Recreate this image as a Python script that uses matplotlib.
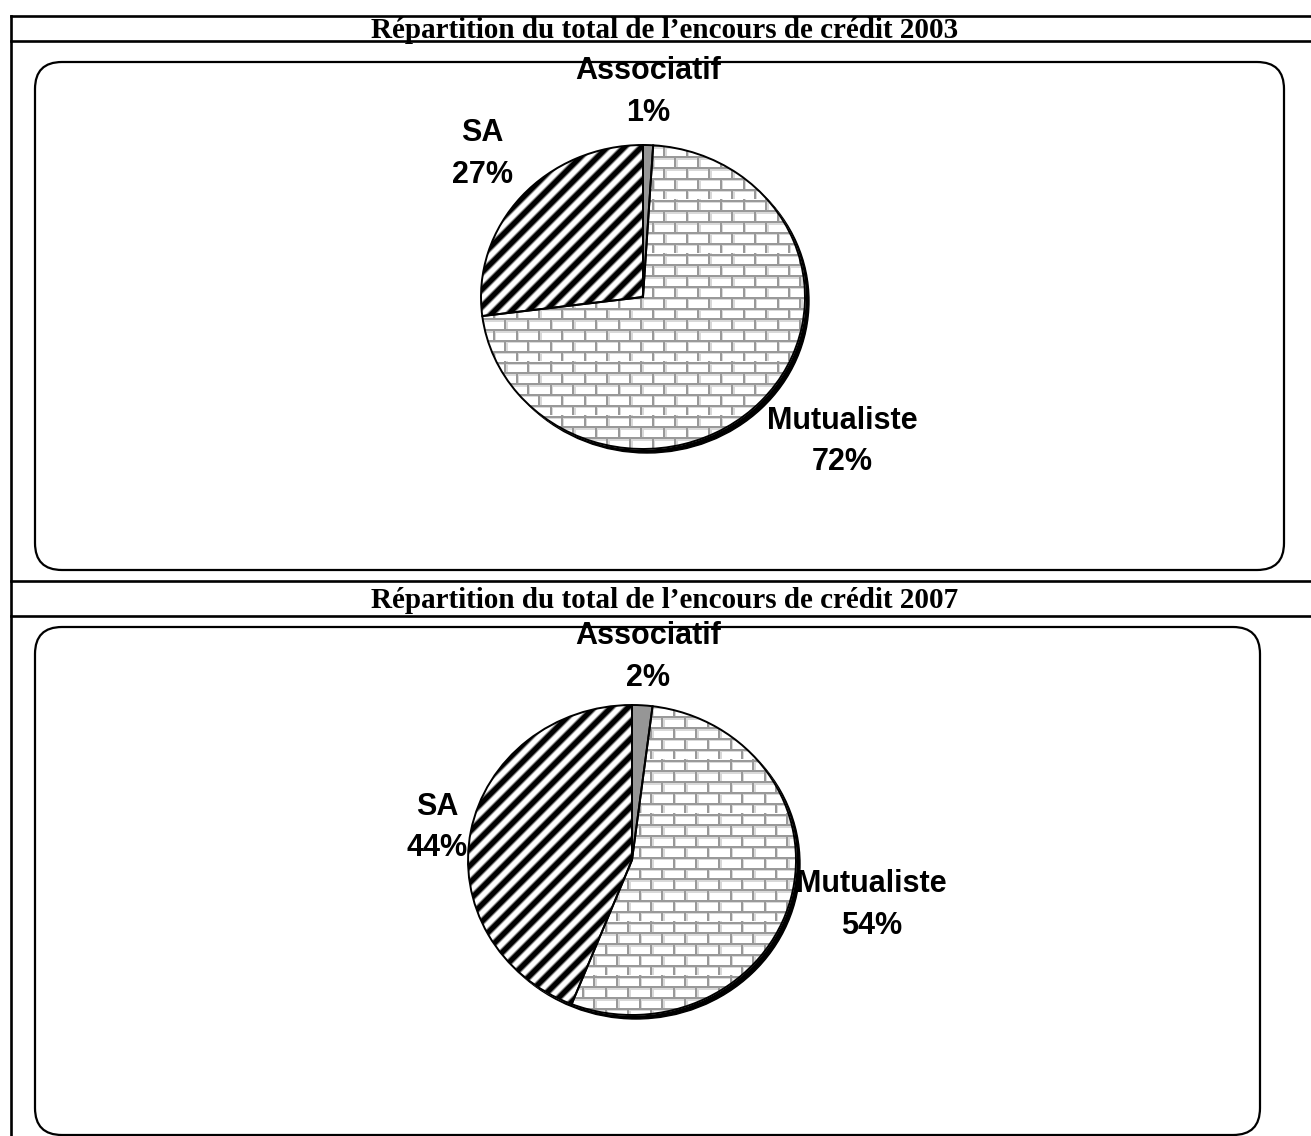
import numpy as np
import matplotlib
matplotlib.use('Agg')
import matplotlib.pyplot as plt
from matplotlib.patches import FancyBboxPatch, Circle

# parts of the credit outstanding, by type of institution
categories = ['Associatif', 'Mutualiste', 'SA']
shares_2003 = [1, 72, 27]
shares_2007 = [2, 54, 44]
titles = ['Répartition du total de l’encours de crédit 2003',
          'Répartition du total de l’encours de crédit 2007']

W, H = 1311, 1136
fig = plt.figure(figsize=(W / 100, H / 100), dpi=100)

# background axes in pixel units for the table frame
bg = fig.add_axes([0, 0, 1, 1])
bg.set_xlim(0, W)
bg.set_ylim(H, 0)
bg.axis('off')

lw_table = 1.9
bg.plot([11, 11], [16, H], color='black', lw=lw_table)
for y in [16, 41, 581, 616]:
    bg.plot([11, W], [y, y], color='black', lw=lw_table)

bg.text(665, 30, titles[0], family='Liberation Serif', weight='bold',
        fontsize=21, ha='center', va='center')
bg.text(665, 600, titles[1], family='Liberation Serif', weight='bold',
        fontsize=21, ha='center', va='center')

for (x0, y0, x1, y1) in [(35, 62, 1284, 570), (35, 627, 1260, 1135)]:
    box = FancyBboxPatch((x0, y0), x1 - x0, y1 - y0,
                         boxstyle='round,pad=0,rounding_size=27',
                         fill=False, ec='black', lw=1.6, zorder=5)
    bg.add_patch(box)


def stripe_texture(h, w, period=17.0):
    yy, xx = np.mgrid[0:h, 0:w]
    t = ((xx + yy) % period) / period
    v = 0.5 + 0.5 * np.cos(2 * np.pi * t)
    return np.clip((v - 0.5) * 1.8 + 0.5, 0, 1)


def brick_texture(h, w, bh=10.8, bw=22.7):
    yy, xx = np.mgrid[0:h, 0:w].astype(float)
    img = np.ones((h, w))
    row = np.floor(yy / bh)
    ry = yy % bh
    rx = (xx + (row % 2) * bw / 2) % bw
    img[(ry >= 2) & (ry < 3.5)] = 0.85
    img[(rx >= 2) & (rx < 3.5)] = 0.85
    img[ry < 2] = 0.6
    img[rx < 2] = 0.6
    return img


def draw_pie(values, cx, cy, rx, ry, label_pos):
    k = 1.6
    ax = fig.add_axes([(cx - k * rx) / W, (H - cy - k * ry) / H,
                       2 * k * rx / W, 2 * k * ry / H])
    wedges, _ = ax.pie(values, startangle=90, counterclock=False,
                       colors=['#969696', 'none', 'none'],
                       wedgeprops=dict(edgecolor='black', linewidth=1.4))

    # drop shadow at lower right
    ax.add_patch(Circle((4 / rx, -4 / ry), 1.0, color='black', zorder=-1))
    ax.add_patch(Circle((0, 0), 1.0, color='white', zorder=-0.5))

    h, w = int(2 * ry), int(2 * rx)
    im = ax.imshow(brick_texture(h, w), cmap='gray', vmin=0, vmax=1,
                   extent=(-1, 1, -1, 1), interpolation='nearest',
                   aspect='auto', zorder=0)
    im.set_clip_path(wedges[1])
    im = ax.imshow(stripe_texture(h, w), cmap='gray', vmin=0, vmax=1,
                   extent=(-1, 1, -1, 1), interpolation='bilinear',
                   aspect='auto', zorder=0)
    im.set_clip_path(wedges[2])

    ax.set_aspect('auto')
    ax.set_xlim(-k, k)
    ax.set_ylim(-k, k)
    ax.axis('off')

    for name, v, (lx, ly) in zip(categories, values, label_pos):
        ax.text(lx, ly, f'{name}\n{v:.0f}%', family='Liberation Sans',
                weight='bold', fontsize=22, ha='center', va='center',
                linespacing=1.5)


draw_pie(shares_2003, 643, 297, 162, 152,
         [(0.03, 1.35), (1.23, -0.95), (-0.99, 0.94)])
draw_pie(shares_2007, 632, 860, 164, 155,
         [(0.10, 1.31), (1.46, -0.29), (-1.19, 0.21)])

fig.savefig('out.png', dpi=100)
